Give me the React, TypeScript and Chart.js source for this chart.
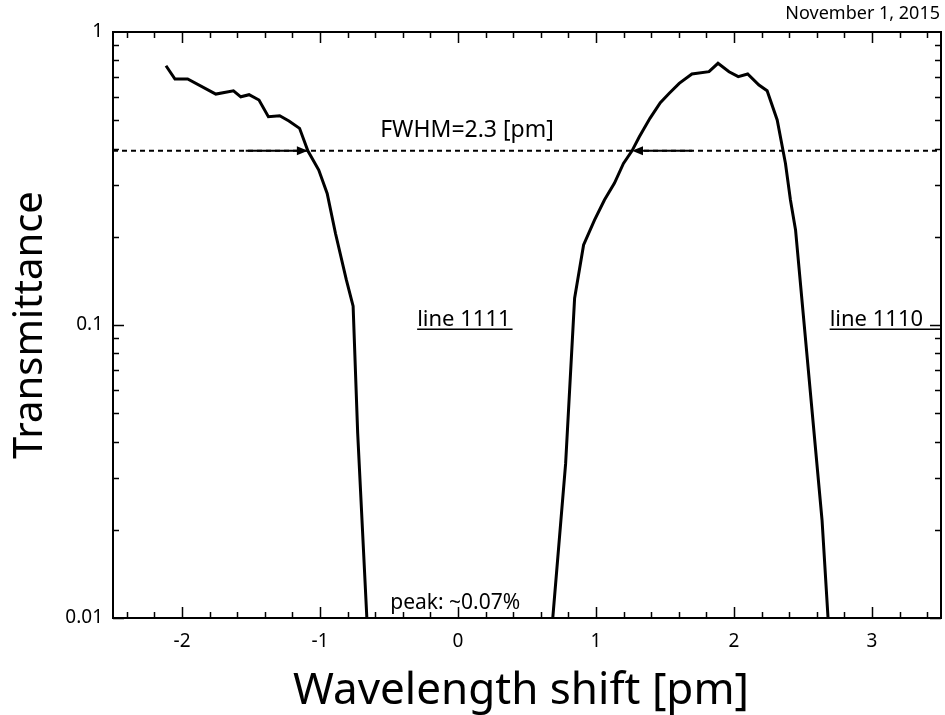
import React, { useEffect, useRef } from "react";
import { Chart, registerables } from "chart.js";

Chart.register(...registerables);

// Wavelength shift [pm] and transmittance of the measured filter curve
const shiftPm = [
  -2.116, -2.051, -1.959, -1.755, -1.627, -1.574, -1.514, -1.442, -1.374, -1.292,
  -1.225, -1.148, -1.088, -1.009, -0.948, -0.888, -0.809, -0.76, -0.727, -0.66,
  -0.6, 0.0, 0.62, 0.686, 0.78, 0.845, 0.91, 0.989, 1.061, 1.134, 1.199, 1.261,
  1.314, 1.391, 1.466, 1.531, 1.603, 1.695, 1.819, 1.884, 1.964, 2.031, 2.099,
  2.181, 2.24, 2.313, 2.373, 2.409, 2.446, 2.638, 2.682, 2.74,
];
const transmittance = [
  0.767, 0.691, 0.691, 0.614, 0.63, 0.601, 0.611, 0.586, 0.514, 0.518,
  0.497, 0.469, 0.393, 0.338, 0.281, 0.2056, 0.1425, 0.116, 0.0428, 0.0099,
  0.0008, 0.0007, 0.0008, 0.0099, 0.0337, 0.1234, 0.1875, 0.228, 0.267, 0.305, 0.356, 0.393,
  0.439, 0.5075, 0.574, 0.618, 0.668, 0.719, 0.732, 0.782, 0.732, 0.704, 0.719,
  0.659, 0.63, 0.501, 0.356, 0.267, 0.211, 0.0216, 0.0099, 0.0008,
];

// FWHM level line
const fwhmX = [-2.5, 3.5];
const fwhmLevel = [0.393, 0.393];

// FWHM arrows (from -> to, at FWHM level)
const arrowFrom = [-1.538, 1.697];
const arrowTo = [-1.088, 1.261];

const xTicks = [-2, -1, 0, 1, 2, 3];
const xTickLabels = ["-2", "-1", "0", "1", "2", "3"];
const yTicks = [0.01, 0.1, 1];
const yTickLabels = ["0.01", "0.1", "1"];

const FONT = "'Noto Sans', 'Liberation Sans', sans-serif";

const decorPlugin = {
  id: "decor",
  afterDatasetsDraw(chart: any) {
    const { ctx, chartArea } = chart;
    const xs = chart.scales.x;
    const ys = chart.scales.y;
    const { left, right, top, bottom } = chartArea;
    ctx.save();
    ctx.strokeStyle = "#000";
    ctx.fillStyle = "#000";

    // arrows
    ctx.lineWidth = 2;
    for (let i = 0; i < arrowFrom.length; i++) {
      const yv = ys.getPixelForValue(fwhmLevel[0]);
      const x0 = xs.getPixelForValue(arrowFrom[i]);
      const x1 = xs.getPixelForValue(arrowTo[i]);
      const dir = Math.sign(x1 - x0);
      ctx.beginPath();
      ctx.moveTo(x0, yv);
      ctx.lineTo(x1 - dir * 8, yv);
      ctx.stroke();
      ctx.beginPath();
      ctx.moveTo(x1, yv);
      ctx.lineTo(x1 - dir * 11, yv - 4.5);
      ctx.lineTo(x1 - dir * 11, yv + 4.5);
      ctx.closePath();
      ctx.fill();
    }

    // frame
    ctx.lineWidth = 2;
    ctx.strokeRect(left, top, right - left, bottom - top);

    // x ticks (top and bottom, inward)
    ctx.lineWidth = 1.5;
    for (let i = -12; i <= 17; i++) {
      const v = i / 5;
      const px = Math.round(xs.getPixelForValue(v)) + 0.5;
      const len = i % 5 === 0 ? 11 : 6;
      ctx.beginPath();
      ctx.moveTo(px, bottom);
      ctx.lineTo(px, bottom - len);
      ctx.moveTo(px, top);
      ctx.lineTo(px, top + len);
      ctx.stroke();
    }
    // y ticks (log, left and right, inward)
    for (let d = -2; d <= -1; d++) {
      for (let m = 1; m <= 9; m++) {
        const v = m * Math.pow(10, d);
        const py = Math.round(ys.getPixelForValue(v)) + 0.5;
        const len = m === 1 ? 11 : 6;
        ctx.beginPath();
        ctx.moveTo(left, py);
        ctx.lineTo(left + len, py);
        ctx.moveTo(right, py);
        ctx.lineTo(right - len, py);
        ctx.stroke();
      }
    }

    // annotations
    ctx.textBaseline = "alphabetic";
    ctx.font = `23px ${FONT}`;
    ctx.textAlign = "center";
    ctx.fillText("FWHM=2.3 [pm]", xs.getPixelForValue(0.065), ys.getPixelForValue(0.438));

    ctx.font = `22px ${FONT}`;
    ctx.textAlign = "left";
    const l1x = xs.getPixelForValue(-0.296);
    const l1y = ys.getPixelForValue(0.099);
    ctx.fillText("line 1111", l1x, l1y);
    const w1 = ctx.measureText("line 1111").width;
    ctx.lineWidth = 1.5;
    ctx.beginPath();
    ctx.moveTo(l1x, l1y + 3);
    ctx.lineTo(l1x + w1 + 2, l1y + 3);
    ctx.stroke();

    const l2x = xs.getPixelForValue(2.693);
    ctx.fillText("line 1110", l2x, l1y);
    ctx.beginPath();
    ctx.moveTo(l2x, l1y + 3);
    ctx.lineTo(right - 1, l1y + 3);
    ctx.stroke();

    ctx.font = `21px ${FONT}`;
    ctx.textAlign = "center";
    ctx.fillText("peak: ~0.07%", xs.getPixelForValue(-0.02), bottom - 9);

    ctx.restore();

    // outside texts
    ctx.save();
    ctx.fillStyle = "#000";
    ctx.font = `18px ${FONT}`;
    ctx.textAlign = "right";
    ctx.textBaseline = "alphabetic";
    ctx.fillText("November 1, 2015", 940, 19);

    ctx.font = `44px ${FONT}`;
    ctx.textAlign = "center";
    ctx.fillText("Wavelength shift [pm]", (left + right) / 2 - 6, 704);

    ctx.translate(42, 325);
    ctx.rotate(-Math.PI / 2);
    ctx.font = `40px ${FONT}`;
    ctx.textAlign = "center";
    ctx.fillText("Transmittance", 0, 0);
    ctx.restore();
  },
};

export default function App() {
  const ref = useRef<HTMLCanvasElement | null>(null);
  useEffect(() => {
    document.body.style.margin = "0";
    const canvas = ref.current!;
    const curve = shiftPm.map((x, i) => ({ x, y: transmittance[i] }));
    const level = fwhmX.map((x, i) => ({ x, y: fwhmLevel[i] }));
    const chart = new Chart(canvas, {
      type: "scatter",
      data: {
        datasets: [
          {
            data: level,
            showLine: true,
            borderColor: "#000",
            borderWidth: 2,
            borderDash: [5, 4],
            pointRadius: 0,
          },
          {
            data: curve,
            showLine: true,
            borderColor: "#000",
            borderWidth: 3,
            pointRadius: 0,
            tension: 0,
          },
        ],
      },
      options: {
        responsive: false,
        animation: false,
        layout: { padding: { top: 32, right: 4, left: 0, bottom: 0 } },
        plugins: { legend: { display: false }, tooltip: { enabled: false } },
        scales: {
          x: {
            type: "linear",
            min: -2.5,
            max: 3.5,
            grid: { display: false, drawTicks: false },
            border: { display: false },
            afterBuildTicks: (s: any) => {
              s.ticks = xTicks.map((v) => ({ value: v }));
            },
            afterFit: (s: any) => {
              s.height = 97;
            },
            ticks: {
              padding: 12,
              color: "#000",
              font: { family: FONT, size: 19 },
              maxRotation: 0,
              callback: (v: any) => {
                const i = xTicks.indexOf(Number(v));
                return i >= 0 ? xTickLabels[i] : "";
              },
            },
          },
          y: {
            type: "logarithmic",
            min: 0.01,
            max: 1,
            grid: { display: false, drawTicks: false },
            border: { display: false },
            afterBuildTicks: (s: any) => {
              s.ticks = yTicks.map((v) => ({ value: v }));
            },
            afterFit: (s: any) => {
              s.width = 113;
            },
            ticks: {
              padding: 10,
              color: "#000",
              font: { family: FONT, size: 19 },
              callback: (v: any) => {
                const i = yTicks.findIndex((t) => Math.abs(t - Number(v)) < 1e-9);
                return i >= 0 ? yTickLabels[i] : "";
              },
            },
          },
        },
      },
      plugins: [decorPlugin],
    });
    return () => chart.destroy();
  }, []);
  return (
    <div style={{ width: 945, height: 715 }}>
      <canvas ref={ref} width={945} height={715} style={{ display: "block" }} />
    </div>
  );
}
